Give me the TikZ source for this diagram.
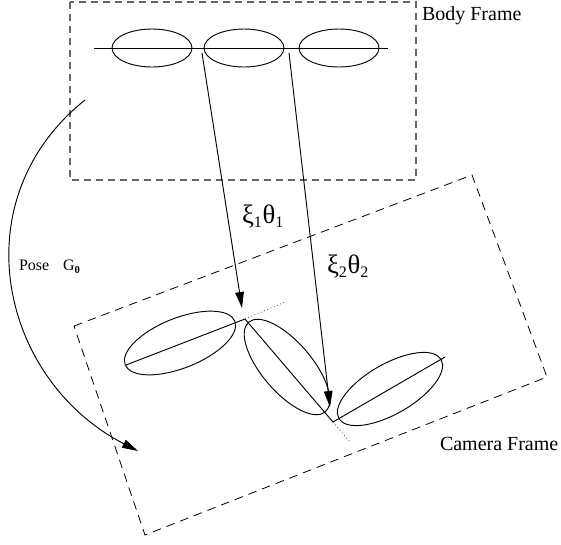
\documentclass[tikz,border=0pt]{standalone}
\usepackage{fontspec}
\setmainfont{Liberation Serif}
\usetikzlibrary{arrows.meta}
\begin{document}
\begin{tikzpicture}[x=0.75pt,y=-0.75pt,
  every node/.style={inner sep=0pt, outer sep=0pt},
  solidline/.style={line width=0.7pt},
  bodyframe/.style={draw=black!60, line width=0.8pt, dash pattern=on 5.5pt off 3.5pt},
  camframe/.style={draw=black, line width=0.6pt, dash pattern=on 6.5pt off 4.5pt},
  guide/.style={line width=0.6pt, dotted, black!70},
  arr/.style={line width=0.7pt, -{Triangle[length=12pt,width=6.5pt]}},
  lbl/.style={font=\fontsize{15}{18}\selectfont, anchor=base west},
  greek/.style={font=\fontsize{20}{24}\selectfont, anchor=base west}
]
\newcommand{\gsub}[1]{\raisebox{-0.4ex}{\fontsize{12}{14}\selectfont #1}\hspace{0.5pt}}
\useasboundingbox (0,0) rectangle (561,544);
% ---------------- body frame
\draw[bodyframe] (70,2) rectangle (416,180);
\coordinate (bl) at (94,48);
\coordinate (br) at (388,48);
\draw[solidline] (bl) -- (br);
\draw[solidline] (152,48) ellipse [x radius=40, y radius=19];
\draw[solidline] (244,48) ellipse [x radius=40, y radius=19];
\draw[solidline] (339,48) ellipse [x radius=40, y radius=19];
\node[lbl] (body) at (422,20) {Body Frame};
% ---------------- camera frame
\coordinate (c1) at (74,326);
\coordinate (c2) at (472,175);
\coordinate (c3) at (547,377);
\coordinate (c4) at (145,535);
\draw[camframe] (c1) -- (c2) -- (c3) -- (c4) -- cycle;
\node[lbl] (cam) at (440,450) {Camera Frame};
% ---------------- camera chain
\coordinate (a0) at (126,365);
\coordinate (j1) at (245,319);
\coordinate (j2) at (333,422);
\coordinate (a3) at (445,357);
\coordinate (d1) at (285,302);
\coordinate (d2) at (350,442);
\draw[solidline] (a0) -- (j1) -- (j2) -- (a3);
\draw[guide] (j1) -- (d1);
\draw[guide] (j2) -- (d2);
\draw[solidline, rotate around={21.7:(180,343)}] (180,343) ellipse [x radius=59, y radius=25];
\draw[solidline, rotate around={-49.5:(287,367)}] (287,367) ellipse [x radius=59, y radius=25];
\draw[solidline, rotate around={30:(390,389)}] (390,389) ellipse [x radius=59, y radius=25];
% ---------------- twist arrows
\coordinate (s1) at (202,53);
\coordinate (t1) at (242,308);
\coordinate (s2) at (289,53);
\coordinate (t2) at (330,407);
\draw[arr] (s1) -- (t1);
\draw[arr] (s2) -- (t2);
\node[greek] (xi1) at (242,223) {ξ\gsub{1}θ\gsub{1}};
\node[greek] (xi2) at (327,273) {ξ\gsub{2}θ\gsub{2}};
% ---------------- pose
\coordinate (p0) at (85,100);
\coordinate (p1) at (138,451);
\draw[arr] (p0) .. controls (-40,200) and (0,380) .. (p1);
\node[font=\fontsize{12}{14}\selectfont, anchor=base west] (pose) at (19,270) {Pose};
\node[font=\fontsize{12}{14}\selectfont, anchor=base west] (g0) at (63,270) {G\raisebox{-0.45ex}{\fontsize{8}{9}\selectfont\bfseries 0}};
\end{tikzpicture}
\end{document}
